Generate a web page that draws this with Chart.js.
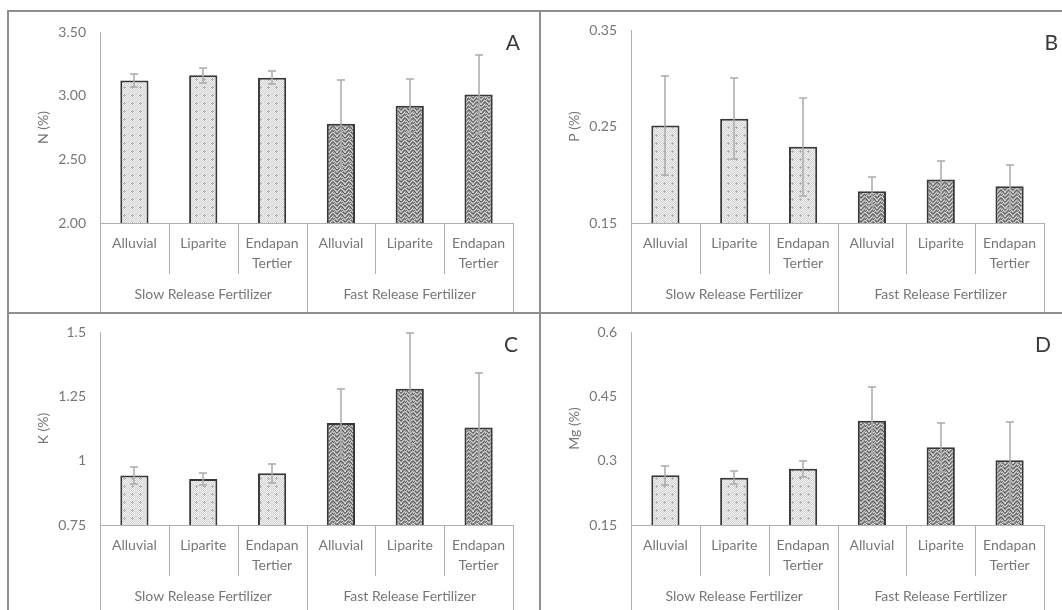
<!DOCTYPE html>
<html>
<head>
<meta charset="utf-8">
<script src="https://cdn.jsdelivr.net/npm/chart.js@4.4.1/dist/chart.umd.min.js"></script>
<style>
  body { margin: 0; background: #fff; width: 1062px; height: 610px; overflow: hidden; position: relative; }
  .panel { position: absolute; }
  .line { position: absolute; background: #8f8f8f; }
</style>
</head>
<body>
<div class="line" style="left:7px; top:10px; width:1055px; height:2px;"></div>
<div class="line" style="left:7px; top:10px; width:2px; height:600px;"></div>
<div class="line" style="left:539px; top:10px; width:2px; height:600px;"></div>
<div class="line" style="left:7px; top:312px; width:1055px; height:2px;"></div>

<div class="panel" style="left:9px; top:12px; width:530px; height:300px;"><canvas id="chartN"></canvas></div>
<div class="panel" style="left:541px; top:12px; width:521px; height:300px;"><canvas id="chartP"></canvas></div>
<div class="panel" style="left:9px; top:315px; width:530px; height:295px;"><canvas id="chartK"></canvas></div>
<div class="panel" style="left:541px; top:315px; width:521px; height:295px;"><canvas id="chartMg"></canvas></div>

<script>
// --- data ---
const categories = [['Alluvial'], ['Liparite'], ['Endapan', 'Tertier'], ['Alluvial'], ['Liparite'], ['Endapan', 'Tertier']];
const groups = ['Slow Release Fertilizer', 'Fast Release Fertilizer'];
const groupOf = [0, 0, 0, 1, 1, 1];

const nValues = [3.12, 3.16, 3.14, 2.78, 2.92, 3.01];
const nErrors = [0.05, 0.06, 0.05, 0.34, 0.21, 0.31];
const nTicks = [2.00, 2.50, 3.00, 3.50];
const nTickLabels = ['2.00', '2.50', '3.00', '3.50'];

const pValues = [0.251, 0.258, 0.229, 0.183, 0.195, 0.188];
const pErrors = [0.051, 0.042, 0.051, 0.015, 0.019, 0.022];
const pTicks = [0.15, 0.25, 0.35];
const pTickLabels = ['0.15', '0.25', '0.35'];

const kValues = [0.942, 0.929, 0.951, 1.146, 1.279, 1.129];
const kErrors = [0.032, 0.025, 0.036, 0.133, 0.217, 0.211];
const kTicks = [0.75, 1, 1.25, 1.5];
const kTickLabels = ['0.75', '1', '1.25', '1.5'];

const mgValues = [0.266, 0.260, 0.281, 0.393, 0.331, 0.301];
const mgErrors = [0.022, 0.015, 0.019, 0.078, 0.057, 0.090];
const mgTicks = [0.15, 0.3, 0.45, 0.6];
const mgTickLabels = ['0.15', '0.3', '0.45', '0.6'];

const textGray = '#777777';
const axisGray = '#b0b0b0';

// --- hatch fills (fixed 8x8 tiles) ---
const slowTile = [
  '01010101',
  '10101010',
  '01020101',
  '10222010',
  '01020101',
  '10101010',
  '01010101',
  '10101010'
];
const fastTile = [
  '12100121',
  '21011012',
  '10122101',
  '01211210',
  '02101120',
  '21010012',
  '10121201',
  '01212010'
];
function makePattern(tile, shades) {
  const c = document.createElement('canvas');
  c.width = 8; c.height = 8;
  const g = c.getContext('2d');
  tile.forEach((row, y) => {
    [...row].forEach((ch, x) => { g.fillStyle = shades[+ch]; g.fillRect(x, y, 1, 1); });
  });
  return g.createPattern(c, 'repeat');
}
const slowFill = makePattern(slowTile, ['#f0f0f0', '#d4d4d4', '#b0b0b0']);
const fastFill = makePattern(fastTile, ['#cdcdcd', '#989898', '#666666']);

// --- error bars ---
const errorBars = {
  id: 'errorBars',
  afterDatasetsDraw(chart, args, opts) {
    const {ctx, scales: {y}} = chart;
    const meta = chart.getDatasetMeta(0);
    const vals = chart.data.datasets[0].data;
    ctx.save();
    ctx.strokeStyle = '#aaaaaa';
    ctx.lineWidth = 1.5;
    meta.data.forEach((bar, i) => {
      const xc = Math.round(bar.x);
      const hi = Math.round(y.getPixelForValue(vals[i] + opts.errors[i]));
      const lo = Math.round(y.getPixelForValue(vals[i] - opts.errors[i]));
      ctx.beginPath();
      ctx.moveTo(xc, hi); ctx.lineTo(xc, lo);
      ctx.moveTo(xc - 4, hi); ctx.lineTo(xc + 4, hi);
      ctx.moveTo(xc - 4, lo); ctx.lineTo(xc + 4, lo);
      ctx.stroke();
    });
    ctx.restore();
  }
};

// --- axis frame, group labels, panel letter ---
const groupAxis = {
  id: 'groupAxis',
  afterDraw(chart, args, opts) {
    const {ctx, chartArea: a, scales: {x}} = chart;
    const H = chart.height;
    const px = v => Math.round(v) + 0.5;
    const line = (x1, y1, x2, y2) => { ctx.beginPath(); ctx.moveTo(x1, y1); ctx.lineTo(x2, y2); ctx.stroke(); };
    ctx.save();
    ctx.strokeStyle = axisGray;
    ctx.lineWidth = 1;
    line(px(a.left), a.top, px(a.left), H);
    line(a.left, px(a.bottom), a.right, px(a.bottom));
    line(px(a.right), a.bottom, px(a.right), H);
    const n = chart.data.labels.length;
    let mid = a.left;
    for (let i = 0; i < n - 1; i++) {
      const bx = (x.getPixelForValue(i) + x.getPixelForValue(i + 1)) / 2;
      const split = groupOf[i] !== groupOf[i + 1];
      if (split) mid = bx;
      line(px(bx), a.bottom, px(bx), split ? H : a.bottom + 51);
    }
    ctx.fillStyle = textGray;
    ctx.font = '14px Lato';
    ctx.textAlign = 'center';
    ctx.textBaseline = 'middle';
    ctx.fillText(groups[0], (a.left + mid) / 2, a.bottom + 71);
    ctx.fillText(groups[1], (mid + a.right) / 2, a.bottom + 71);
    ctx.fillStyle = '#3a3a3a';
    ctx.font = '21px Lato';
    ctx.textAlign = 'right';
    ctx.textBaseline = 'alphabetic';
    ctx.fillText(opts.letter, opts.letterX, opts.letterY);
    ctx.restore();
  }
};

function makeChart(id, cfg) {
  const tickFont = {family: 'Lato', size: 14};
  return new Chart(document.getElementById(id), {
    type: 'bar',
    data: {
      labels: categories,
      datasets: [{
        data: cfg.values,
        backgroundColor: groupOf.map(g => g ? fastFill : slowFill),
        borderColor: '#383838',
        borderWidth: 2,
        borderSkipped: false,
        barPercentage: 0.41,
        categoryPercentage: 1
      }]
    },
    options: {
      responsive: true,
      maintainAspectRatio: false,
      animation: false,
      events: [],
      layout: { padding: { left: cfg.padLeft, top: cfg.padTop, right: cfg.padRight, bottom: 0 } },
      plugins: {
        legend: { display: false },
        tooltip: { enabled: false },
        errorBars: { errors: cfg.errors },
        groupAxis: { letter: cfg.letter, letterX: cfg.letterX, letterY: cfg.letterY }
      },
      scales: {
        x: {
          grid: { display: false },
          border: { display: false },
          ticks: { color: textGray, font: {family: 'Lato', size: 14, lineHeight: 1.45}, padding: 2, maxRotation: 0, autoSkip: false },
          afterFit: s => { s.height = cfg.xHeight; }
        },
        y: {
          min: cfg.ticks[0],
          max: cfg.ticks[cfg.ticks.length - 1],
          grid: { display: false },
          border: { display: false },
          afterBuildTicks: s => { s.ticks = cfg.ticks.map(v => ({value: v})); },
          ticks: { color: textGray, font: tickFont, padding: 6, callback: (v, i) => cfg.tickLabels[i] },
          title: { display: true, text: cfg.title, color: textGray, font: tickFont, padding: {top: 0, bottom: 0} },
          afterFit: s => { s.width = cfg.yWidth; }
        }
      }
    },
    plugins: [errorBars, groupAxis]
  });
}

makeChart('chartN', { values: nValues, errors: nErrors, ticks: nTicks, tickLabels: nTickLabels, title: 'N (%)',
  letter: 'A', letterX: 511, letterY: 38, padLeft: 26, yWidth: 65, padTop: 20, padRight: 26, xHeight: 89 });
makeChart('chartP', { values: pValues, errors: pErrors, ticks: pTicks, tickLabels: pTickLabels, title: 'P (%)',
  letter: 'B', letterX: 517, letterY: 38, padLeft: 25, yWidth: 65, padTop: 18, padRight: 18, xHeight: 89 });
makeChart('chartK', { values: kValues, errors: kErrors, ticks: kTicks, tickLabels: kTickLabels, title: 'K (%)',
  letter: 'C', letterX: 509, letterY: 37, padLeft: 26, yWidth: 65, padTop: 17, padRight: 26, xHeight: 85 });
makeChart('chartMg', { values: mgValues, errors: mgErrors, ticks: mgTicks, tickLabels: mgTickLabels, title: 'Mg (%)',
  letter: 'D', letterX: 510, letterY: 37, padLeft: 25, yWidth: 65, padTop: 17, padRight: 18, xHeight: 85 });
</script>
</body>
</html>
